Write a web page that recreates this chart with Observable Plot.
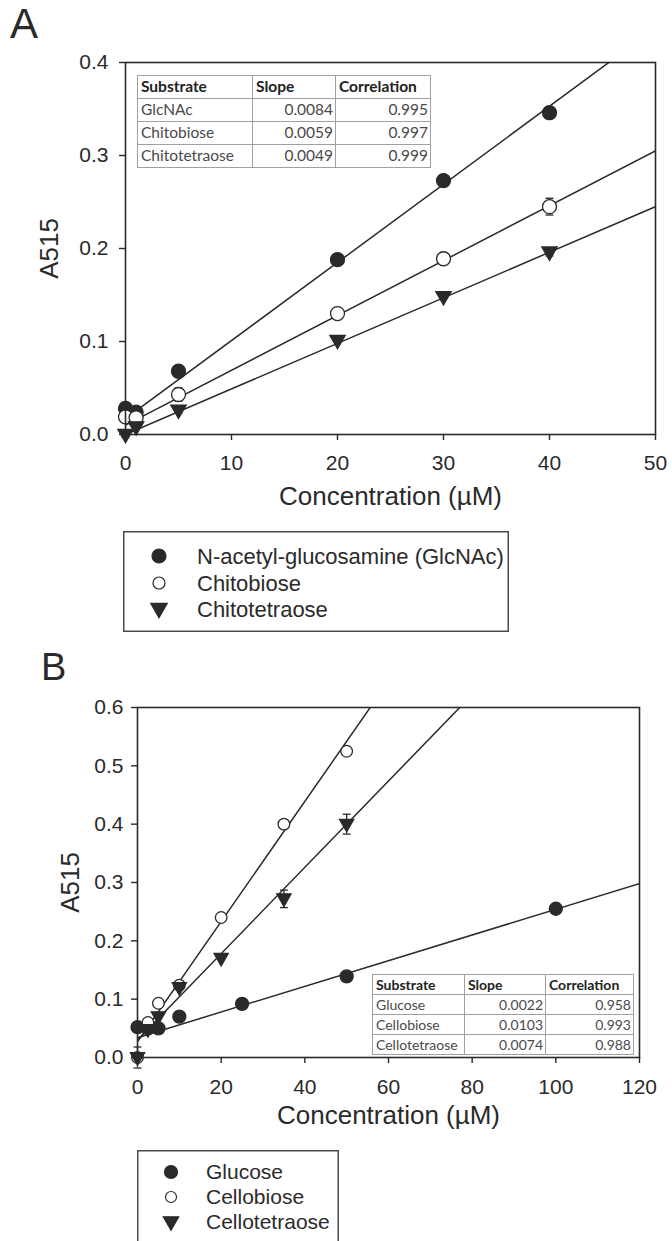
<!DOCTYPE html>
<html>
<head>
<meta charset="utf-8">
<script src="https://cdn.jsdelivr.net/npm/d3@7"></script>
<script src="https://cdn.jsdelivr.net/npm/@observablehq/plot@0.6"></script>
<style>
  body { margin: 0; background: #fff; }
  #page { position: relative; width: 672px; height: 1241px; overflow: hidden; background: #fff;
          font-family: "Liberation Sans", Arial, Helvetica, sans-serif; color: #2a2a2a; }
  .panel-letter { position: absolute; line-height: 1; }
  .chart { position: absolute; left: 0; }
  .stats { position: absolute; border-collapse: collapse; table-layout: fixed; background: #fff;
           font-family: Lato, "Open Sans", sans-serif; color: #4a4a4a; }
  .stats th, .stats td { box-sizing: border-box; border: 1px solid #a0a0a0; padding: 0 2px 0 3px;
                         white-space: nowrap; line-height: 1; overflow: hidden; }
  .stats th { font-weight: bold; text-align: left; color: #222; }
  .stats td.num { text-align: right; }
  .legend { position: absolute; }
</style>
</head>
<body>
<div id="page"></div>
<script>
// ---------- Panel A: chitin-derived substrates ----------
const concA = [0, 1, 5, 20, 30, 40];
const glcnacA = [0.028, 0.024, 0.068, 0.188, 0.273, 0.346];
const glcnacErrA = [0, 0, 0, 0, 0.004, 0];
const chitobioseA = [0.019, 0.018, 0.043, 0.130, 0.189, 0.245];
const chitobioseErrA = [0, 0, 0.007, 0, 0, 0.009];
const chitotetraoseA = [0.000, 0.008, 0.026, 0.101, 0.148, 0.196];
const chitotetraoseErrA = [0.003, 0, 0.003, 0, 0, 0.004];

const namesA = ["GlcNAc", "Chitobiose", "Chitotetraose"];
const legendNamesA = ["N-acetyl-glucosamine (GlcNAc)", "Chitobiose", "Chitotetraose"];
const slopesA = [0.0084, 0.0059, 0.0049];
const interceptsA = [0.017, 0.010, 0.000];
const correlationsA = [0.995, 0.997, 0.999];
const xTicksA = [0, 10, 20, 30, 40, 50];
const yTicksA = [0, 0.1, 0.2, 0.3, 0.4];

// ---------- Panel B: cellulose-derived substrates ----------
const concGlucoseB = [0, 2.5, 5, 10, 25, 50, 100];
const glucoseB = [0.052, 0.050, 0.050, 0.070, 0.092, 0.139, 0.255];
const glucoseErrB = [0, 0, 0, 0, 0, 0, 0];
const concCelloB = [0, 2.5, 5, 10, 20, 35, 50];
const cellobioseB = [0.000, 0.060, 0.093, 0.124, 0.240, 0.400, 0.525];
const cellobioseErrB = [0, 0, 0, 0, 0, 0, 0];
const cellotetraoseB = [0.000, 0.048, 0.070, 0.120, 0.170, 0.272, 0.400];
const cellotetraoseErrB = [0.018, 0, 0, 0, 0, 0.015, 0.017];

const namesB = ["Glucose", "Cellobiose", "Cellotetraose"];
const slopesB = [0.0022, 0.0103, 0.0074];
const interceptsB = [0.034, 0.027, 0.030];
const correlationsB = [0.958, 0.993, 0.988];
const xTicksB = [0, 20, 40, 60, 80, 100, 120];
const yTicksB = [0, 0.1, 0.2, 0.3, 0.4, 0.5, 0.6];

const xLabel = "Concentration (µM)";
const yLabel = "A515";

// ---------- shared styling ----------
const FONT = '"Liberation Sans", Arial, Helvetica, sans-serif';
const INK = "#2a2a2a";
const page = document.getElementById("page");

// downward-pointing triangle marker
const triangleDown = {
  draw(ctx, size) {
    const s = Math.sqrt(size);
    ctx.moveTo(-0.62 * s, -0.42 * s);
    ctx.lineTo(0.62 * s, -0.42 * s);
    ctx.lineTo(0, 0.66 * s);
    ctx.closePath();
  }
};
// short horizontal stroke used as an error-bar cap
const capSymbol = {
  draw(ctx, size) {
    const w = Math.sqrt(size) / 2;
    ctx.moveTo(-w, 0);
    ctx.lineTo(w, 0);
  }
};

const markerStyles = [
  {symbol: "circle", fill: INK, stroke: INK},
  {symbol: "circle", fill: "white", stroke: INK},
  {symbol: triangleDown, fill: INK, stroke: INK}
];

function drawPanel(p) {
  const points = p.series.flatMap((s, k) =>
    s.x.map((x, j) => ({x, y: s.y[j], err: s.err[j], k})));
  const withErr = points.filter(d => d.err > 0);
  const marks = [];

  // regression lines across the full x range, clipped to the frame
  p.series.forEach(s => {
    const fit = p.xDomain.map(x => ({x, y: s.intercept + s.slope * x}));
    marks.push(Plot.line(fit, {x: "x", y: "y", stroke: INK, strokeWidth: 1.5, clip: true}));
  });

  // error bars
  marks.push(Plot.ruleX(withErr, {x: "x", y1: d => d.y - d.err, y2: d => d.y + d.err, stroke: INK, strokeWidth: 1.3}));
  marks.push(Plot.dot(withErr, {x: "x", y: d => d.y + d.err, symbol: capSymbol, r: p.capR, fill: "none", stroke: INK, strokeWidth: 1.3}));
  marks.push(Plot.dot(withErr, {x: "x", y: d => d.y - d.err, symbol: capSymbol, r: p.capR, fill: "none", stroke: INK, strokeWidth: 1.3}));

  // measured points
  p.series.forEach((s, k) => {
    const st = markerStyles[k];
    marks.push(Plot.dot(points.filter(d => d.k === k), {
      x: "x", y: "y", r: p.r[k], symbol: st.symbol, fill: st.fill, stroke: st.stroke, strokeWidth: 1.3
    }));
  });

  marks.push(Plot.frame({stroke: INK, strokeWidth: 1.6}));
  marks.push(Plot.axisX({ticks: p.xTicks, tickSize: 6, tickPadding: p.xTickPadding, fontSize: 21,
    tickFormat: d => String(d), label: null, strokeWidth: 1.4}));
  marks.push(Plot.axisY({ticks: p.yTicks, tickSize: 6, tickPadding: p.yTickPadding, fontSize: 21,
    tickFormat: d3.format(".1f"), label: null, strokeWidth: 1.4}));
  marks.push(Plot.text([xLabel], {text: d => d, frameAnchor: "bottom", dy: p.xLabelOffset, fontSize: 26, fill: INK}));
  marks.push(Plot.text([yLabel], {text: d => d, frameAnchor: "left", dx: -p.yLabelOffset, rotate: -90,
    textAnchor: "middle", fontSize: 26, fill: INK}));

  const svg = Plot.plot({
    width: 672,
    height: p.height,
    marginTop: p.margin[0], marginRight: p.margin[1], marginBottom: p.margin[2], marginLeft: p.margin[3],
    x: {domain: p.xDomain, label: null},
    y: {domain: p.yDomain, label: null},
    style: {fontFamily: FONT, color: INK, background: "transparent", overflow: "visible"},
    marks
  });
  svg.classList.add("chart");
  svg.style.top = p.top + "px";
  page.appendChild(svg);
}

function drawTable(t) {
  const table = document.createElement("table");
  table.className = "stats";
  table.style.left = t.left + "px";
  table.style.top = t.top + "px";
  table.style.fontSize = t.fontSize + "px";
  table.style.width = d3.sum(t.colWidths) + "px";
  const rows = [["Substrate", "Slope", "Correlation"],
    ...t.names.map((n, i) => [n, t.slopes[i].toFixed(4), t.correlations[i].toFixed(3)])];
  rows.forEach((r, ri) => {
    const tr = table.insertRow();
    r.forEach((c, ci) => {
      const cell = document.createElement(ri === 0 ? "th" : "td");
      cell.textContent = c;
      cell.style.width = t.colWidths[ci] + "px";
      cell.style.height = t.rowHeight + "px";
      if (ri > 0 && ci > 0) cell.className = "num";
      tr.appendChild(cell);
    });
  });
  page.appendChild(table);
}

function drawLegend(l) {
  const ns = "http://www.w3.org/2000/svg";
  const svg = document.createElementNS(ns, "svg");
  svg.setAttribute("class", "legend");
  svg.setAttribute("width", l.width);
  svg.setAttribute("height", l.height);
  svg.style.left = l.left + "px";
  svg.style.top = l.top + "px";
  const rect = document.createElementNS(ns, "rect");
  rect.setAttribute("x", 0.75); rect.setAttribute("y", 0.75);
  rect.setAttribute("width", l.width - 1.5); rect.setAttribute("height", l.height - 1.5);
  rect.setAttribute("fill", "white"); rect.setAttribute("stroke", "#4a4a4a"); rect.setAttribute("stroke-width", 1.5);
  svg.appendChild(rect);
  l.names.forEach((name, i) => {
    const st = markerStyles[i];
    const type = st.symbol === "circle" ? d3.symbolCircle : st.symbol;
    const path = document.createElementNS(ns, "path");
    path.setAttribute("d", d3.symbol(type, Math.PI * l.r[i] * l.r[i])());
    path.setAttribute("transform", `translate(${l.symX},${l.rowYs[i]})`);
    path.setAttribute("fill", st.fill);
    path.setAttribute("stroke", st.stroke);
    path.setAttribute("stroke-width", 1.2);
    svg.appendChild(path);
    const text = document.createElementNS(ns, "text");
    text.setAttribute("x", l.textX);
    text.setAttribute("y", l.rowYs[i]);
    text.setAttribute("dy", "0.35em");
    text.setAttribute("font-family", FONT);
    text.setAttribute("font-size", l.fontSize);
    text.setAttribute("fill", INK);
    text.textContent = name;
    svg.appendChild(text);
  });
  page.appendChild(svg);
}

function letter(ch, left, top, size) {
  const d = document.createElement("div");
  d.className = "panel-letter";
  d.textContent = ch;
  d.style.left = left + "px";
  d.style.top = top + "px";
  d.style.fontSize = size + "px";
  page.appendChild(d);
}

// ---------- Panel A ----------
letter("A", 10, 3, 42);
drawPanel({
  top: 0, height: 540, margin: [62, 17, 106, 125],
  xDomain: [0, 50], yDomain: [0, 0.4], xTicks: xTicksA, yTicks: yTicksA,
  xTickPadding: 15, yTickPadding: 11, xLabelOffset: 70, yLabelOffset: 76,
  r: [7, 7, 7], capR: 4.5,
  series: [
    {x: concA, y: glcnacA, err: glcnacErrA, slope: slopesA[0], intercept: interceptsA[0]},
    {x: concA, y: chitobioseA, err: chitobioseErrA, slope: slopesA[1], intercept: interceptsA[1]},
    {x: concA, y: chitotetraoseA, err: chitotetraoseErrA, slope: slopesA[2], intercept: interceptsA[2]}
  ]
});
drawTable({left: 137, top: 75, colWidths: [115, 83, 95], rowHeight: 23, fontSize: 15.5,
  names: namesA, slopes: slopesA, correlations: correlationsA});
drawLegend({left: 123, top: 531, width: 386, height: 101, names: legendNamesA,
  rowYs: [25, 52, 78], symX: 36, textX: 74, fontSize: 22, r: [7, 6, 7.5]});

// ---------- Panel B ----------
letter("B", 41, 648, 38);
drawPanel({
  top: 645, height: 520, margin: [62, 33, 108, 137],
  xDomain: [0, 120], yDomain: [0, 0.6], xTicks: xTicksB, yTicks: yTicksB,
  xTickPadding: 16, yTickPadding: 8, xLabelOffset: 66, yLabelOffset: 67,
  r: [6.5, 5.8, 6.5], capR: 4.5,
  series: [
    {x: concGlucoseB, y: glucoseB, err: glucoseErrB, slope: slopesB[0], intercept: interceptsB[0]},
    {x: concCelloB, y: cellobioseB, err: cellobioseErrB, slope: slopesB[1], intercept: interceptsB[1]},
    {x: concCelloB, y: cellotetraoseB, err: cellotetraoseErrB, slope: slopesB[2], intercept: interceptsB[2]}
  ]
});
drawTable({left: 372, top: 974, colWidths: [92, 81, 88], rowHeight: 20, fontSize: 14,
  names: namesB, slopes: slopesB, correlations: correlationsB});
drawLegend({left: 137, top: 1150, width: 202, height: 110, names: namesB,
  rowYs: [22, 47, 72], symX: 34, textX: 69, fontSize: 21, r: [6.5, 5.5, 7]});
</script>
</body>
</html>
